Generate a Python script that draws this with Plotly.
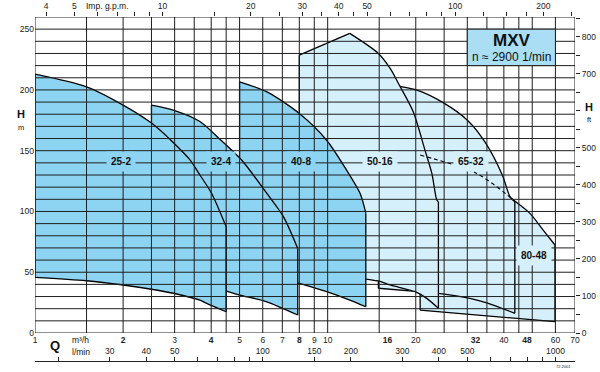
import numpy as np
import plotly.graph_objects as go

# ---------------- axes / grid data ----------------
Q_GRID = [1, 1.5, 2, 2.5, 3, 3.5, 4, 4.5, 5, 6, 7, 8, 9, 10, 15, 20, 25, 30, 35, 40, 45, 50, 60, 70]
H_GRID = list(range(0, 261, 10))

Q_TICKS = [1, 2, 3, 4, 5, 6, 7, 8, 9, 10, 16, 20, 32, 40, 48, 60, 70]
Q_BOLD = [2, 4, 8, 16, 32, 48]
H_TICKS = [0, 50, 100, 150, 200, 250]
FT_TICKS = list(range(0, 851, 50))
FT_LABELS = [0, 100, 200, 300, 400, 500, 700, 800]
GPM_TICKS = [4, 5, 6, 7, 8, 9, 10, 15, 20, 25, 30, 35, 40, 45, 50, 60, 70, 80, 90, 100, 125, 150, 175, 200, 250]
GPM_LABELS = [4, 5, 10, 20, 30, 40, 50, 100, 200]
LMIN_TICKS = [20, 30, 40, 50, 60, 70, 80, 90, 100, 150, 200, 300, 400, 500, 600, 700, 800, 900, 1000]
LMIN_LABELS = [30, 40, 50, 100, 150, 200, 300, 400, 500, 1000]

GPM_PER_M3H = 1000 / 4.54609 / 60
LMIN_PER_M3H = 1000 / 60
FT_PER_M = 1 / 0.3048

# ---------------- pump curves (Q m3/h, H m) ----------------
P25_2_Q_TOP = [1, 1.5, 2, 2.5, 2.96, 3.39, 3.66, 4.01, 4.5]
P25_2_H_TOP = [213, 202.5, 187.5, 172.7, 157, 142.3, 130, 115, 87.4]
P25_2_Q_BOT = [1, 1.5, 2, 2.5, 3, 3.66, 3.86, 4.5]
P25_2_H_BOT = [45.8, 43, 39.5, 36, 32.5, 27, 24.4, 17.5]

P32_4_Q_TOP = [2.5, 3.0, 3.66, 4.3, 5.08, 6.19, 7.05, 7.9]
P32_4_H_TOP = [187.5, 183, 174, 159, 142.3, 115, 96, 69.6]
P32_4_Q_BOT = [2.5, 3, 3.66, 4.5, 5.01, 6.19, 7.9]
P32_4_H_BOT = [46, 43.5, 40, 34.5, 31.2, 25.7, 14.8]

P40_8_Q_TOP = [5, 6.2, 8.04, 9.92, 11.6, 12.9, 13.5]
P40_8_H_TOP = [206.7, 198.4, 180.2, 158.6, 134, 114.9, 98.6]
P40_8_Q_BOT = [5, 6.2, 8, 9.92, 11.9, 13.5]
P40_8_H_BOT = [52, 48, 40.9, 34, 27.1, 21.6]

P50_16_Q_RISE = [8, 11.9]
P50_16_H_RISE = [228.6, 246.5]
P50_16_Q_TOP = [11.9, 14.9, 16.35, 17.66, 19.6, 21.5, 22.7, 23.6, 23.9]
P50_16_H_TOP = [246.5, 230, 217.7, 203, 182, 150.5, 131.3, 109.4, 108]
P50_16_Q_BOT = [8, 10, 12, 13.5, 14.9, 16.35, 19.9, 21.8, 23.9]
P50_16_H_BOT = [58, 52, 47, 44.4, 42.8, 39.5, 34, 28.5, 20.3]

P65_32_Q_TOP = [14.9, 17.66, 20.1, 24.8, 30.2, 34.5, 39.5, 42, 43.6]
P65_32_H_TOP = [207, 203, 200, 189.5, 174.5, 157, 130, 112, 108]
P65_32_Q_BOT = [14.9, 20, 23.9, 30.6, 36.8, 43.6]
P65_32_H_BOT = [36.8, 34.2, 32.6, 28.5, 23, 16.2]

P80_48_Q_TOP = [20.7, 32.3, 43.6, 49.1, 54.5, 59.8]
P80_48_H_TOP = [146.4, 131.3, 108.5, 98.4, 84.7, 72.4]
P80_48_Q_BOT = [20.7, 59.8]
P80_48_H_BOT = [18.9, 9.3]
P80_48_HIDDEN_END = 3  # first points of top curve drawn dashed

LABELS = ["25-2", "32-4", "40-8", "50-16", "65-32", "80-48"]
LABEL_Q = [1.96, 4.31, 8.09, 15.1, 31.0, 50.8]
LABEL_H = [141, 141, 141, 141, 141, 64]

BOX_Q = [30, 60]
BOX_H = [220, 250]

DARK = "rgb(141,212,242)"
LIGHT = "rgb(214,240,251)"
BOXC = "rgb(170,222,245)"
LINEC = "#1e1e1e"
FONT = "Liberation Sans, Arial, sans-serif"

fig = go.Figure()


def line(x, y, shape="linear", dash="solid", width=1.3):
    fig.add_trace(go.Scatter(x=list(x), y=list(y), mode="lines",
                             line=dict(color="black", width=width, shape=shape, dash=dash,
                                       smoothing=0.8),
                             hoverinfo="skip", showlegend=False))


def pump(qt, ht, qb, hb, color, rise=None):
    top_q = list(qt) if rise is None else list(rise[0]) + list(qt[1:])
    top_h = list(ht) if rise is None else list(rise[1]) + list(ht[1:])
    x = top_q + list(qb[::-1]) + [top_q[0]]
    y = top_h + list(hb[::-1]) + [top_h[0]]
    fig.add_trace(go.Scatter(x=x, y=y, mode="lines", fill="toself", fillcolor=color,
                             line=dict(width=0, color=color), hoverinfo="skip",
                             showlegend=False))
    if rise is not None:
        line(rise[0], rise[1])
    line(qt, ht, shape="spline")
    line(qb, hb, shape="spline")
    line([top_q[0], qb[0]], [top_h[0], hb[0]])
    line([qt[-1], qb[-1]], [ht[-1], hb[-1]])


pump(P80_48_Q_TOP, P80_48_H_TOP, P80_48_Q_BOT, P80_48_H_BOT, LIGHT)
pump(P65_32_Q_TOP, P65_32_H_TOP, P65_32_Q_BOT, P65_32_H_BOT, LIGHT)
pump(P50_16_Q_TOP, P50_16_H_TOP, P50_16_Q_BOT, P50_16_H_BOT, LIGHT,
     rise=(P50_16_Q_RISE, P50_16_H_RISE))
pump(P40_8_Q_TOP, P40_8_H_TOP, P40_8_Q_BOT, P40_8_H_BOT, DARK)
pump(P32_4_Q_TOP, P32_4_H_TOP, P32_4_Q_BOT, P32_4_H_BOT, DARK)
pump(P25_2_Q_TOP, P25_2_H_TOP, P25_2_Q_BOT, P25_2_H_BOT, DARK)

# hidden part of 80-48 curve, dashed
line(P80_48_Q_TOP[:P80_48_HIDDEN_END], P80_48_H_TOP[:P80_48_HIDDEN_END],
     shape="spline", dash="4px,3px", width=1.1)

# grid drawn above the fills
gx, gy = [], []
for q in Q_GRID:
    gx += [q, q, None]
    gy += [0, 260, None]
for h in H_GRID:
    gx += [1, 70, None]
    gy += [h, h, None]
fig.add_trace(go.Scatter(x=gx, y=gy, mode="lines", line=dict(color=LINEC, width=1),
                         hoverinfo="skip", showlegend=False))

# MXV box
fig.add_trace(go.Scatter(x=[BOX_Q[0], BOX_Q[1], BOX_Q[1], BOX_Q[0], BOX_Q[0]],
                         y=[BOX_H[0], BOX_H[0], BOX_H[1], BOX_H[1], BOX_H[0]],
                         mode="lines", fill="toself", fillcolor=BOXC,
                         line=dict(color=LINEC, width=1), hoverinfo="skip", showlegend=False))

# dummy traces to attach the extra axes
fig.add_trace(go.Scatter(x=[], y=[], xaxis="x2", yaxis="y", showlegend=False, hoverinfo="skip"))
fig.add_trace(go.Scatter(x=[], y=[], xaxis="x3", yaxis="y", showlegend=False, hoverinfo="skip"))
fig.add_trace(go.Scatter(x=[], y=[], xaxis="x", yaxis="y2", showlegend=False, hoverinfo="skip"))

# ---------------- layout ----------------
TOP, BOTTOM_PLOT, BOTTOM_LMIN, LEFT, RIGHT = 17, 333, 361, 35, 575
W, H = 600, 372
Y0 = (BOTTOM_LMIN - BOTTOM_PLOT) / (BOTTOM_LMIN - TOP)


def px(x):
    return (x - LEFT) / (RIGHT - LEFT)


def py(y):
    return (BOTTOM_LMIN - y) / (BOTTOM_LMIN - TOP)


tickfont = dict(family=FONT, size=8.5, color="#222")

fig.update_layout(
    template="none",
    width=W, height=H, autosize=False,
    margin=dict(l=LEFT, r=W - RIGHT, t=TOP, b=H - BOTTOM_LMIN, pad=0),
    paper_bgcolor="white", plot_bgcolor="white", showlegend=False,
    font=dict(family=FONT, size=8.5, color="#222"),
    xaxis=dict(type="log", range=[0, np.log10(70)], tickvals=Q_TICKS,
               ticktext=[f"<b>{q}</b>" if q in Q_BOLD else str(q) for q in Q_TICKS],
               showgrid=False, zeroline=False, ticks="", showline=False, automargin=False,
               anchor="y", domain=[0, 1], tickfont=tickfont, tickangle=0),
    yaxis=dict(range=[0, 260], domain=[Y0, 1], tickvals=H_TICKS, showgrid=False,
               zeroline=False, ticks="", showline=False, tickfont=tickfont, automargin=False),
    yaxis2=dict(overlaying="y", side="right", anchor="x", domain=[Y0, 1],
                range=[0, 260 * FT_PER_M], tickvals=FT_TICKS,
                ticktext=[str(v) if v in FT_LABELS else "" for v in FT_TICKS],
                ticks="outside", ticklen=4, tickcolor="#222", showgrid=False,
                zeroline=False, showline=False, tickfont=tickfont, automargin=False),
    xaxis2=dict(overlaying="x", side="top", anchor="y", type="log",
                range=[np.log10(GPM_PER_M3H), np.log10(70 * GPM_PER_M3H)],
                tickvals=GPM_TICKS,
                ticktext=[str(v) if v in GPM_LABELS else "" for v in GPM_TICKS],
                ticks="outside", ticklen=4, tickcolor="#222", showgrid=False,
                zeroline=False, showline=False, tickfont=tickfont, tickangle=0,
                automargin=False),
    xaxis3=dict(overlaying="x", side="top", anchor="free", position=0, type="log",
                range=[np.log10(LMIN_PER_M3H), np.log10(70 * LMIN_PER_M3H)],
                tickvals=LMIN_TICKS,
                ticktext=[str(v) if v in LMIN_LABELS else "" for v in LMIN_TICKS],
                ticks="outside", ticklen=4, tickcolor="#222", showgrid=False,
                zeroline=False, showline=True, linecolor="#222", linewidth=1,
                tickfont=tickfont, tickangle=0, automargin=False),
)

ann = []
for name, q, h in zip(LABELS, LABEL_Q, LABEL_H):
    bg = DARK if name in ("25-2", "32-4", "40-8") else LIGHT
    ann.append(dict(x=np.log10(q), y=h, xref="x", yref="y", text=f"<b>{name}</b>",
                    showarrow=False, font=dict(family=FONT, size=10, color="#111"),
                    bgcolor=bg, borderpad=4))


def txt(x, y, text, size, bold=False, xanchor="center"):
    ann.append(dict(x=px(x), y=py(y), xref="paper", yref="paper",
                    text=f"<b>{text}</b>" if bold else text, showarrow=False,
                    xanchor=xanchor, yanchor="middle",
                    font=dict(family=FONT, size=size, color="#111")))


txt(511.5, 40.5, "MXV", 17, bold=True)
txt(511, 57.5, "n ≈ 2900 1/min", 12)
txt(55, 345, "Q", 13, bold=True)
txt(70, 340, "m³/h", 8.5, xanchor="left")
txt(70, 352, "l/min", 8.5, xanchor="left")
txt(107, 6, "Imp. g.p.m.", 8.5)
txt(21, 114, "H", 11, bold=True)
txt(21, 127, "m", 7.5)
txt(589, 107, "H", 11, bold=True)
txt(589, 120, "ft", 7.5)
txt(563, 366, "72 2001", 4)

fig.update_layout(annotations=ann)
fig.write_html("out.html",
               config={"displayModeBar": False, "staticPlot": True},
               post_script="document.body.style.margin='0px';document.body.style.overflow='hidden';")
